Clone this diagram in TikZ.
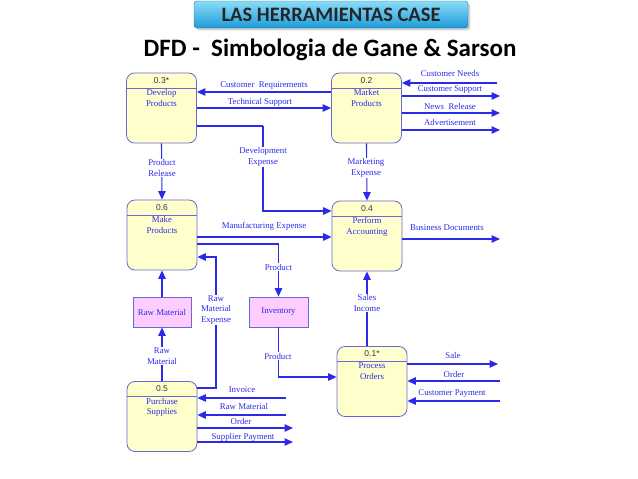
\documentclass[tikz,border=0pt]{standalone}
\usepackage{fontspec}
\setmainfont{Liberation Serif}
\newfontfamily\titlefont{Carlito}
\newfontfamily\numfont{Liberation Sans}
\usetikzlibrary{arrows.meta,positioning,shadows}

\definecolor{procfill}{HTML}{FFFFCC}
\definecolor{procline}{HTML}{6868D8}
\definecolor{storefill}{HTML}{FFCCFF}
\definecolor{flowblue}{HTML}{2A2AE8}
\definecolor{numgray}{HTML}{333344}
\definecolor{boxtop}{HTML}{8ADCF6}
\definecolor{boxbot}{HTML}{1E9CDA}

\begin{document}
\begin{tikzpicture}[x=1pt,y=-1pt,
            proc/.style={draw=procline,fill=procfill,rounded corners=8pt,minimum width=70pt,minimum height=70pt,line width=0.8pt},
            num/.style={font=\numfont\fontsize{8.5}{9}\selectfont,text=numgray,minimum height=15pt,inner sep=0pt,anchor=north},
            store/.style={draw=procline,fill=storefill,minimum height=30pt,line width=0.8pt,text=flowblue,font=\fontsize{8.8}{9}\selectfont},
            lab/.style={text=flowblue,font=\fontsize{8.8}{10.5}\selectfont,align=center,inner sep=1pt},
            gap/.style={lab,fill=white},
            flow/.style={draw=flowblue,line width=1.1pt,-{Triangle[length=8.5pt,width=7.5pt]}},
            pipe/.style={draw=flowblue,line width=1.1pt}
          ]
          \useasboundingbox (0,0) rectangle (638,479);

          %title
          \node[draw=boxbot!70!black,rounded corners=3pt,top color=boxtop,bottom color=boxbot,
                minimum width=274pt,minimum height=27pt,drop shadow={opacity=0.35},
                font=\titlefont\bfseries\fontsize{20.5}{22}\selectfont,text=black!85] (title) at (331,14.5) {LAS HERRAMIENTAS CASE};
          \node[font=\titlefont\bfseries\fontsize{25}{28}\selectfont] (sub) at (330,50) {DFD -\ \ Simbologia de Gane \& Sarson};

          %processes
          \node[proc] (p03) at (161.5,108) {};
          \node[proc] (p02) at (366.5,108) {};
          \node[proc] (p06) at (162,235) {};
          \node[proc] (p04) at (367,236) {};
          \node[proc] (p01) at (372,381.5) {};
          \node[proc] (p05) at (162,416.5) {};

          \foreach \p/\n/\t in {p03/0.3*/Develop\\Products, p02/0.2/Market\\Products,
                                p06/0.6/Make\\Products, p04/0.4/Perform\\Accounting,
                                p01/0.1*/Process\\Orders, p05/0.5/Purchase\\Supplies}{
            \node[num] (\p n) at (\p.north) {\n};
            \draw[procline,line width=0.8pt] (\p.west |- \p n.south) -- (\p.east |- \p n.south);
            \node[lab,below=0.5pt of \p n] (\p t) {\t};
          }

          %data stores
          \node[store,minimum width=58pt] (rawmat) at (162,312) {Raw Material};
          \node[store,minimum width=59pt] (inv) at (278.5,312) {Inventory};

          %free ends
          \coordinate (cneeds) at (497,83);
          \coordinate (csupport) at (500,96);
          \coordinate (cnews) at (500,113);
          \coordinate (cadv) at (500,130);
          \coordinate (cbusiness) at (500,239);
          \coordinate (csale) at (498,364);
          \coordinate (corder) at (500,381);
          \coordinate (cpay) at (500,401);
          \coordinate (cinvoice) at (286,398);
          \coordinate (crawin) at (286,415);
          \coordinate (corderout) at (293,428);
          \coordinate (csupplier) at (293,442);
          \coordinate (cdev) at (263,126);
          \coordinate (cdevdown) at (263,211);
          \coordinate (crme) at (216,388);
          \coordinate (crmeup) at (216,257);

          %flows between processes
          \path[flow] (p02.west |- 0,92) -- (p03.east |- 0,92);
          \path[flow] (p03.east |- 0,108) -- (p02.west |- 0,108);
          \path[pipe] (p03.east |- cdev) -- (cdev);
          \path[flow] (cdev) -- (cdevdown) -- (p04.west |- cdevdown);
          \path[flow] (p03.south) -- (p06.north);
          \path[flow] (p02.south) -- (p04.north);
          \path[flow] (p06.east |- 0,237) -- (p04.west |- 0,237);
          \path[flow] (p06.east |- 0,244) -| (inv.north);
          \path[flow] (p05.east |- crme) -- (crme) -- (crmeup) -- (p06.east |- crmeup);
          \path[flow] (rawmat.north) -- (p06.south);
          \path[flow] (p05.north) -- (rawmat.south);
          \path[flow] (inv.south) |- (p01.west |- 0,377);
          \path[flow] (p01.north -| p04.south) -- (p04.south);

          %flows to and from outside
          \path[flow] (cneeds) -- (p02.east |- cneeds);
          \path[flow] (p02.east |- csupport) -- (csupport);
          \path[flow] (p02.east |- cnews) -- (cnews);
          \path[flow] (p02.east |- cadv) -- (cadv);
          \path[flow] (p04.east |- cbusiness) -- (cbusiness);
          \path[flow] (p01.east |- csale) -- (csale);
          \path[flow] (corder) -- (p01.east |- corder);
          \path[flow] (cpay) -- (p01.east |- cpay);
          \path[flow] (cinvoice) -- (p05.east |- cinvoice);
          \path[flow] (crawin) -- (p05.east |- crawin);
          \path[flow] (p05.east |- corderout) -- (corderout);
          \path[flow] (p05.east |- csupplier) -- (csupplier);

          %labels
          \node[lab] (lreq) at (264,86) {Customer\ \ Requirements};
          \node[lab] (ltech) at (260,102) {Technical Support};
          \node[gap] (ldev) at (263,157) {Development\\Expense};
          \node[gap] (lrel) at (162,168) {Product\\Release};
          \node[lab] (lneeds) at (450,73) {Customer Needs};
          \node[lab] (lsupport) at (450,90) {Customer Support};
          \node[lab] (lnews) at (450,106) {News\ \ Release};
          \node[lab] (ladv) at (450,122) {Advertisement};
          \node[gap] (lmark) at (366,168) {Marketing\\Expense};
          \node[lab] (lmanu) at (264,226) {Manufacturing Expense};
          \node[gap] (lprod) at (278.5,267) {Product};
          \node[gap] (lrme) at (216,310) {Raw\\Material\\Expense};
          \node[gap] (lraw) at (162,356) {Raw\\Material};
          \node[gap] (lprod2) at (278,356) {Product};
          \node[gap] (lsales) at (367,303) {Sales\\Income};
          \node[lab] (lbusiness) at (447,228) {Business Documents};
          \node[lab] (lsale) at (453,355) {Sale};
          \node[lab] (lorder) at (454,374) {Order};
          \node[lab] (lpay) at (452,394) {Customer Payment};
          \node[lab] (linvoice) at (242,390) {Invoice};
          \node[lab] (lrawin) at (244,406) {Raw Material};
          \node[lab] (lorderout) at (241,421) {Order};
          \node[lab] (lsupplier) at (243,437) {Supplier Payment};

      \end{tikzpicture}
\end{document}
